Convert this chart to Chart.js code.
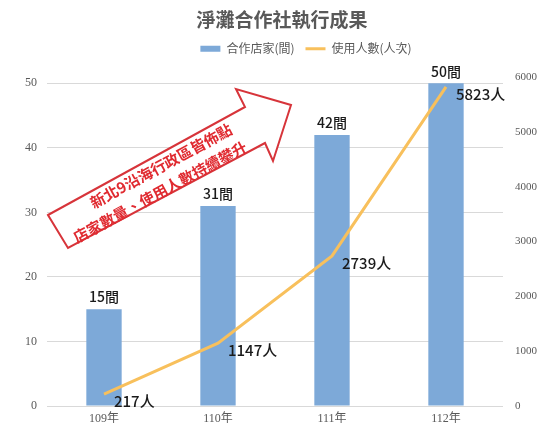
<!DOCTYPE html>
<html lang="zh-Hant">
<head>
<meta charset="UTF-8" />
<title>淨灘合作社執行成果</title>
<script src="https://cdn.jsdelivr.net/npm/chart.js"></script>
<style>
  html, body { margin:0; padding:0; background:#fff; }
  #wrap { width:540px; height:430px; }
</style>
</head>
<body>
<div id="wrap"><canvas id="chart" width="540" height="430"></canvas></div>
<script>
// data
const years = ['109年', '110年', '111年', '112年'];
const shops = [15, 31, 42, 50];
const users = [217, 1147, 2739, 5823];
const leftTicks = [0, 10, 20, 30, 40, 50];
const rightTicks = [0, 1000, 2000, 3000, 4000, 5000, 6000];
const noteLines = ['新北9沿海行政區皆佈點', '店家數量、使用人數持續攀升'];

const GREY = '#595959';
const SERIF = '"Liberation Serif", "Noto Sans CJK TC", serif';
const CJK = '"Noto Sans CJK TC", "Noto Sans", sans-serif';

// title and legend sit a bit right of the canvas centre in the original
const nudge = {
  id: 'nudge',
  afterLayout(chart) {
    chart.titleBlock.left += 12; chart.titleBlock.right += 12;
    chart.legend.left += 36; chart.legend.right += 36;
    chart.legend.top -= 3; chart.legend.bottom -= 3;
  }
};

// value labels on bars and line points
const valueLabels = {
  id: 'valueLabels',
  afterDatasetsDraw(chart) {
    const ctx = chart.ctx;
    ctx.save();
    ctx.fillStyle = '#1a1a1a';
    ctx.font = '500 14px ' + CJK;
    ctx.textAlign = 'center';
    ctx.textBaseline = 'middle';
    chart.getDatasetMeta(0).data.forEach((el, i) => {
      ctx.fillText(shops[i] + '間', el.x, el.y - 12);
    });
    ctx.font = '500 15px ' + CJK;
    ctx.textAlign = 'left';
    chart.getDatasetMeta(1).data.forEach((el, i) => {
      ctx.fillText(users[i] + '人', el.x + 10, el.y + 7);
    });
    ctx.restore();
  }
};

// red callout arrow
const callout = {
  id: 'callout',
  afterDraw(chart) {
    const ctx = chart.ctx;
    const pts = [[48,215],[245,107],[236,89],[291,105],[273,161],[265,143],[68,248]];
    ctx.save();
    ctx.beginPath();
    pts.forEach((p, i) => i ? ctx.lineTo(p[0], p[1]) : ctx.moveTo(p[0], p[1]));
    ctx.closePath();
    ctx.fillStyle = '#fff';
    ctx.fill();
    ctx.strokeStyle = '#D7343A';
    ctx.lineWidth = 2;
    ctx.stroke();
    ctx.fillStyle = '#E02A30';
    ctx.font = 'bold 15px ' + CJK;
    ctx.textAlign = 'center';
    ctx.textBaseline = 'middle';
    [[161,166],[160,192]].forEach((c, i) => {
      ctx.save();
      ctx.translate(c[0], c[1]);
      ctx.rotate(-28.5 * Math.PI / 180);
      ctx.fillText(noteLines[i], 0, 0);
      ctx.restore();
    });
    ctx.restore();
  }
};

new Chart(document.getElementById('chart'), {
  data: {
    labels: years,
    datasets: [
      {
        type: 'bar', label: '合作店家(間)', data: shops, yAxisID: 'y',
        backgroundColor: '#7DA9D8', barPercentage: 0.31, categoryPercentage: 1, order: 2
      },
      {
        type: 'line', label: '使用人數(人次)', data: users, yAxisID: 'y1',
        borderColor: '#F8C05C', borderWidth: 3, pointRadius: 0, tension: 0, order: 1
      }
    ]
  },
  options: {
    responsive: false,
    animation: false,
    layout: { padding: 0 },
    plugins: {
      title: {
        display: true, text: '淨灘合作社執行成果', color: GREY,
        font: { family: CJK, size: 19, weight: 'bold' },
        padding: { top: 8, bottom: 4 }
      },
      legend: {
        labels: {
          color: GREY, font: { family: CJK, size: 12 }, padding: 11,
          usePointStyle: true, pointStyleWidth: 20, boxHeight: 6,
          generateLabels(chart) {
            return chart.data.datasets.map((ds, i) => ({
              text: ds.label, datasetIndex: i,
              pointStyle: ds.type === 'bar' ? 'rect' : 'line',
              fillStyle: ds.type === 'bar' ? ds.backgroundColor : ds.borderColor,
              strokeStyle: ds.type === 'bar' ? ds.backgroundColor : ds.borderColor,
              lineWidth: ds.type === 'bar' ? 0 : 3,
              fontColor: GREY
            }));
          }
        }
      },
      tooltip: { enabled: false }
    },
    scales: {
      x: {
        grid: { display: false, drawTicks: false }, border: { display: false },
        ticks: { color: GREY, font: { family: SERIF, size: 12 }, padding: 6 },
        afterFit(s) { s.height = 24; }
      },
      y: {
        position: 'left', min: 0, max: 52.4,
        grid: { color: '#D9D9D9', drawTicks: false }, border: { display: false },
        ticks: { stepSize: 10, color: GREY, font: { family: SERIF, size: 12 }, padding: 10 },
        afterBuildTicks(s) { s.ticks = leftTicks.map(v => ({ value: v })); },
        afterFit(s) { s.width = 47; }
      },
      y1: {
        position: 'right', min: 0, max: 6170,
        grid: { display: false, drawTicks: false }, border: { display: false },
        ticks: {
          stepSize: 1000, color: GREY, font: { family: SERIF, size: 11 }, padding: 12,
          callback: v => String(v)
        },
        afterBuildTicks(s) { s.ticks = rightTicks.map(v => ({ value: v })); },
        afterFit(s) { s.width = 37; }
      }
    }
  },
  plugins: [nudge, valueLabels, callout]
});
</script>
</body>
</html>
